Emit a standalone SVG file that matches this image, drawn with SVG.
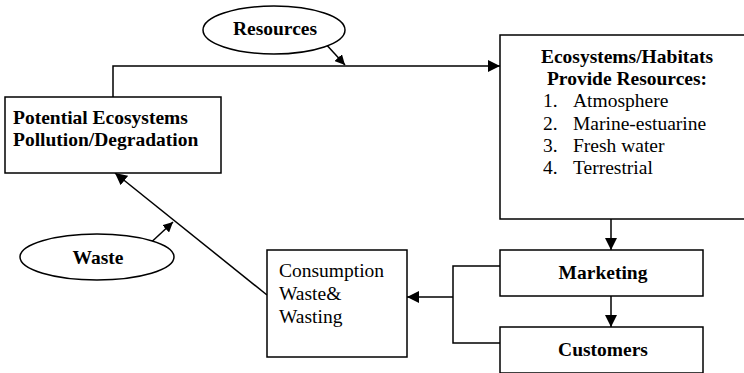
<svg xmlns="http://www.w3.org/2000/svg" width="744" height="373" viewBox="0 0 744 373">
<style>
.box{fill:#fff;stroke:#000;stroke-width:1.5}
.ell{fill:#fff;stroke:#000;stroke-width:1.5}
.b{font-family:"Liberation Serif",serif;font-weight:bold;font-size:19.5px;fill:#000}
.r{font-family:"Liberation Serif",serif;font-size:19.5px;fill:#000}
.ln{fill:none;stroke:#000;stroke-width:1.5}
</style>
<defs>
<marker id="ah" viewBox="0 0 10 10" refX="10" refY="5" markerWidth="10" markerHeight="10" markerUnits="userSpaceOnUse" orient="auto">
<path d="M0,0 L10,5 L0,10 z" fill="#000"/>
</marker>
<marker id="ahs" viewBox="0 0 10 10" refX="10" refY="5" markerWidth="12" markerHeight="12" markerUnits="userSpaceOnUse" orient="auto">
<path d="M0,0 L10,5 L0,10 z" fill="#000"/>
</marker>
</defs>
<rect width="744" height="373" fill="#fff"/>
<g id="connectors">
<path class="ln" d="M113,97 V66 H500" marker-end="url(#ahs)"/>
<path class="ln" d="M313,30 L345,65" marker-end="url(#ah)"/>
<path class="ln" d="M611,219 V250" marker-end="url(#ahs)"/>
<path class="ln" d="M611,296 V327" marker-end="url(#ahs)"/>
<path class="ln" d="M500,266 H453 V343 H500"/>
<path class="ln" d="M453,297 H407" marker-end="url(#ahs)"/>
<path class="ln" d="M267,295 L115,173" marker-end="url(#ahs)"/>
<path class="ln" d="M145,248 L173,222" marker-end="url(#ah)"/>
</g>
<g id="potential">
<rect class="box" x="5" y="97" width="216" height="76"/>
<text class="b" x="13" y="124">Potential Ecosystems</text>
<text class="b" x="13" y="146">Pollution/Degradation</text>
</g>
<g id="resources">
<ellipse class="ell" cx="274" cy="30" rx="71" ry="24"/>
<text class="b" x="275" y="35" text-anchor="middle" font-size="15.5">Resources</text>
</g>
<g id="ecosystems">
<rect class="box" x="500" y="35" width="246" height="184"/>
<text class="b" x="627" y="63" text-anchor="middle">Ecosystems/Habitats</text>
<text class="b" x="627" y="85" text-anchor="middle">Provide Resources:</text>
<text class="r" x="543" y="107">1.</text><text class="r" x="573" y="107">Atmosphere</text>
<text class="r" x="543" y="129.5">2.</text><text class="r" x="573" y="129.5">Marine-estuarine</text>
<text class="r" x="543" y="152">3.</text><text class="r" x="573" y="152">Fresh water</text>
<text class="r" x="543" y="174">4.</text><text class="r" x="573" y="174">Terrestrial</text>
</g>
<g id="marketing">
<rect class="box" x="500" y="250" width="203" height="46"/>
<text class="b" x="603" y="279" text-anchor="middle">Marketing</text>
</g>
<g id="customers">
<rect class="box" x="500" y="327" width="203" height="46"/>
<text class="b" x="603" y="356" text-anchor="middle">Customers</text>
</g>
<g id="consumption">
<rect class="box" x="267" y="250" width="140" height="107"/>
<text class="r" x="279" y="277">Consumption</text>
<text class="r" x="279" y="300">Waste&amp;</text>
<text class="r" x="279" y="323">Wasting</text>
</g>
<g id="waste">
<ellipse class="ell" cx="97" cy="257" rx="77" ry="23"/>
<text class="b" x="98" y="264" text-anchor="middle">Waste</text>
</g>
</svg>
